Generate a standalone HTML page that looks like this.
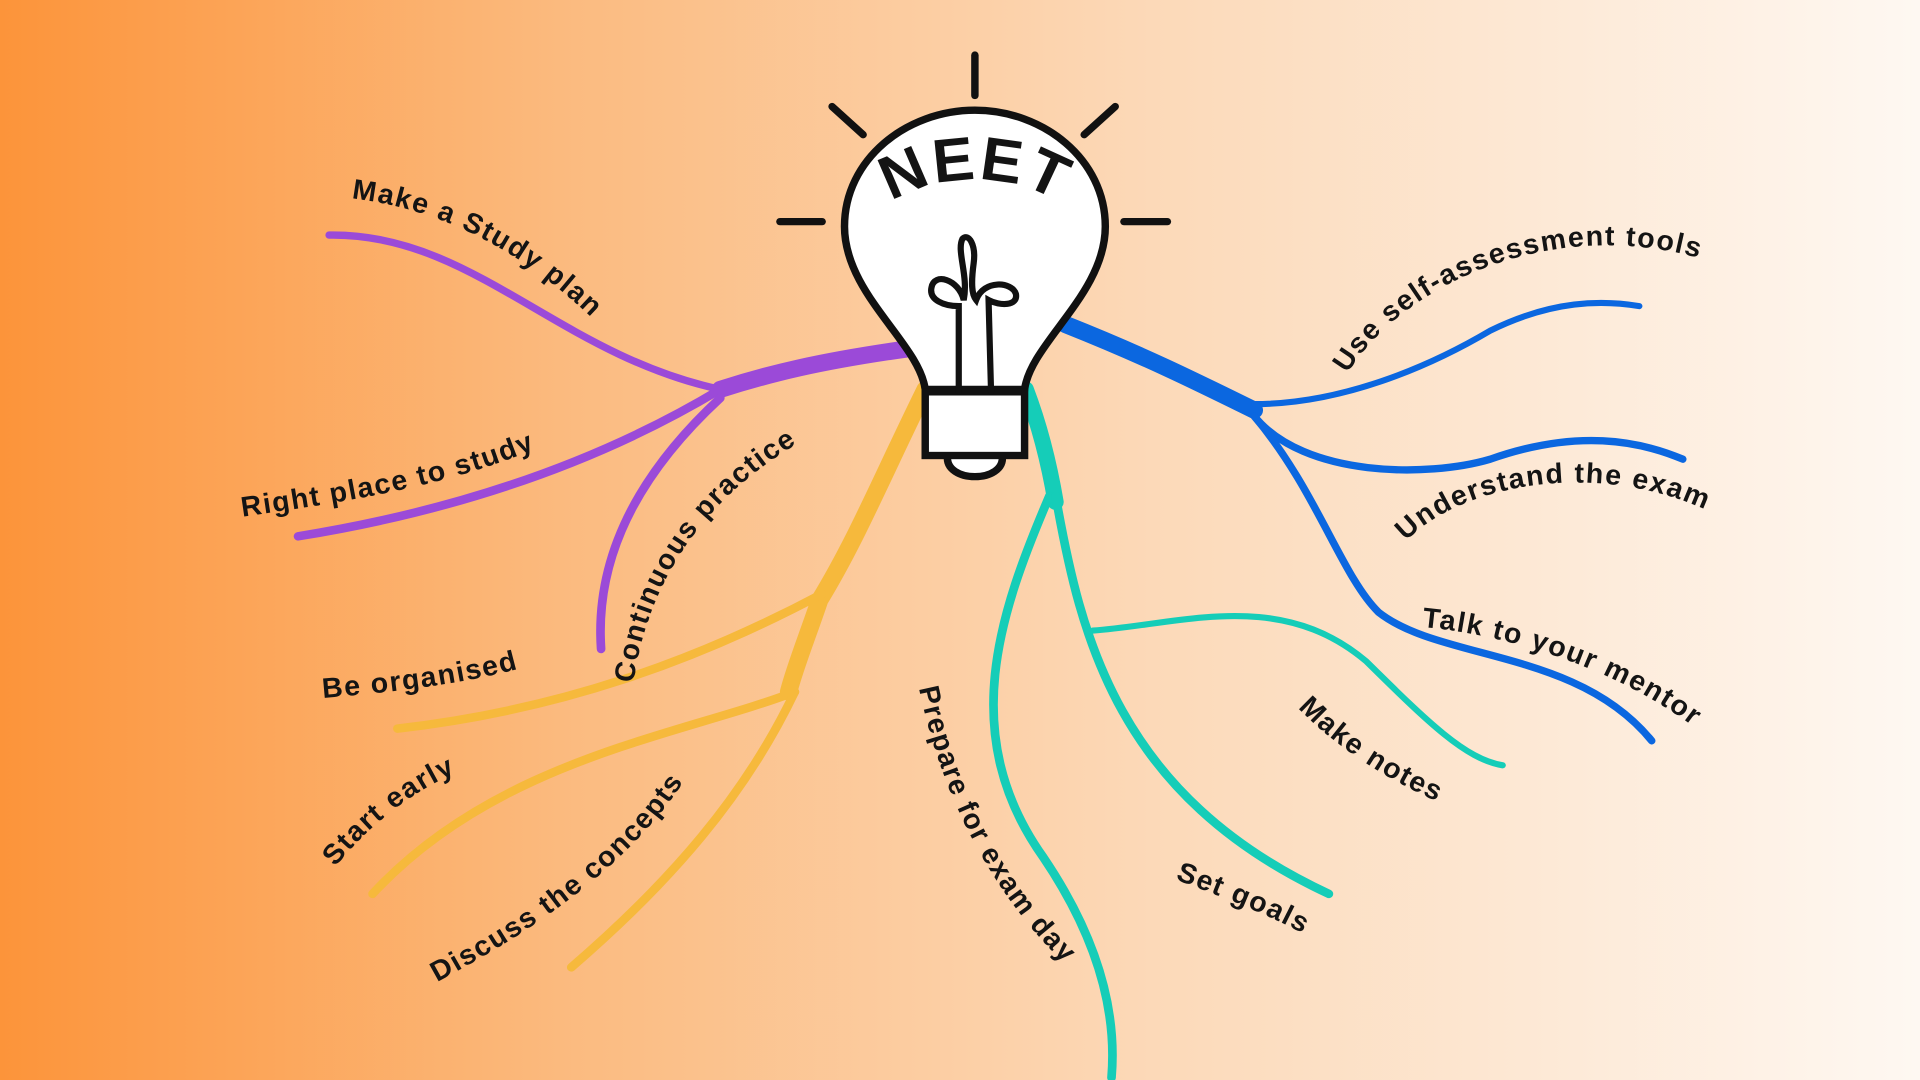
<!DOCTYPE html>
<html><head><meta charset="utf-8"><style>
html,body{margin:0;padding:0;width:1920px;height:1080px;overflow:hidden}
svg{display:block}
text{font-family:"Liberation Sans",sans-serif;font-weight:bold;font-size:23px;fill:#141414;letter-spacing:1.2px}
</style></head><body>
<svg width="1920" height="1080" viewBox="0 0 1546 882" preserveAspectRatio="none" xmlns="http://www.w3.org/2000/svg">
<defs>
<linearGradient id="bg" x1="0" y1="0" x2="1" y2="0">
<stop offset="0" stop-color="#fc943a"/>
<stop offset="0.3" stop-color="#fbbb80"/>
<stop offset="0.6" stop-color="#fcd9b8"/>
<stop offset="1" stop-color="#fef8f2"/>
</linearGradient>
<path id="p1" d="M283 162 C350 170 420 200 492 275"/>
<path id="p2" d="M195 422 C300 407 380 392 452 357"/>
<path id="p3" d="M510 558 C522 470 572 400 655 355"/>
<path id="p4" d="M260 570 C320 565 380 558 432 542"/>
<path id="p5" d="M270 708 C300 670 340 640 382 625"/>
<path id="p6" d="M352 802 C430 760 520 700 564 615"/>
<path id="p7" d="M740 562 C758 650 800 740 880 808"/>
<path id="p8" d="M946 718 C990 735 1030 750 1062 770"/>
<path id="p9" d="M1045 578 C1080 615 1130 645 1180 664"/>
<path id="p10" d="M1145 512 C1230 520 1320 555 1378 605"/>
<path id="p11" d="M1132 442 C1180 392 1300 372 1394 427"/>
<path id="p12" d="M1085 305 C1130 230 1260 170 1387 217"/>
<path id="pn" d="M703 182 C730 135 840 135 867 182"/>
</defs>
<rect width="1546" height="882" fill="url(#bg)"/>
<g fill="none" stroke-linecap="round">
<g stroke="#9b4ad8">
<path d="M730 285 C660 295 620 305 580 318" stroke-width="14"/>
<path d="M580 318 C450 290 380 190 265 192" stroke-width="6"/>
<path d="M580 318 C470 385 350 420 240 438" stroke-width="7"/>
<path d="M580 325 C500 400 480 470 484 530" stroke-width="7"/>
</g>
<g stroke="#f6b93c">
<path d="M745 318 C710 390 690 440 660 490 C650 520 640 545 635 565" stroke-width="14"/>
<path d="M662 485 C560 540 450 580 320 595" stroke-width="7"/>
<path d="M640 565 C550 600 400 620 300 730" stroke-width="7"/>
<path d="M640 565 C600 650 540 720 460 790" stroke-width="7"/>
</g>
<g stroke="#15cdb8">
<path d="M826 318 C838 350 845 380 850 410" stroke-width="13"/>
<path d="M845 405 C805 500 770 600 840 700 C880 760 900 820 895 880" stroke-width="7"/>
<path d="M850 405 C870 520 900 650 1070 730" stroke-width="7"/>
<path d="M880 515 C950 510 1030 480 1100 540 C1150 590 1180 620 1210 625" stroke-width="5"/>
</g>
<g stroke="#0b67e0">
<path d="M858 265 C920 290 960 310 1010 335" stroke-width="14"/>
<path d="M1010 330 C1080 330 1150 300 1200 270 C1250 245 1290 245 1320 250" stroke-width="5"/>
<path d="M1010 340 C1050 390 1150 390 1200 375 C1270 350 1320 360 1355 375" stroke-width="6"/>
<path d="M1010 340 C1060 400 1080 470 1110 500 C1160 540 1270 530 1330 605" stroke-width="6"/>
</g>
</g>
<g stroke="#111" stroke-width="6" stroke-linecap="round" fill="none">
<line x1="785" y1="45" x2="785" y2="78"/>
<line x1="670" y1="87" x2="695" y2="110"/>
<line x1="898" y1="87" x2="873" y2="110"/>
<line x1="628" y1="181" x2="662" y2="181"/>
<line x1="905" y1="181" x2="940" y2="181"/>
<path d="M763 372 C760 395 810 395 807 372" fill="#fff"/>
<path d="M745 318 C740 280 680 240 680 185 C680 130 730 90 785 90 C840 90 890 130 890 185 C890 240 830 280 825 318 Z" fill="#fff"/>
<rect x="745" y="320" width="80" height="52" fill="#fff"/>
<path d="M772 320 L772 250 C760 250 748 245 750 235 C752 222 772 228 776 245 C780 225 770 205 775 195 C780 190 786 200 784 215 C782 230 782 240 786 245 C792 228 815 230 818 240 C820 250 805 250 796 245 L798 320" stroke-width="5"/>
</g>
<text style="font-size:50px;letter-spacing:2px"><textPath href="#pn" startOffset="50%" text-anchor="middle">NEET</textPath></text>
<text><textPath href="#p1">Make a Study plan</textPath></text>
<text><textPath href="#p2">Right place to study</textPath></text>
<text><textPath href="#p3">Continuous practice</textPath></text>
<text><textPath href="#p4">Be organised</textPath></text>
<text><textPath href="#p5">Start early</textPath></text>
<text><textPath href="#p6">Discuss the concepts</textPath></text>
<text><textPath href="#p7">Prepare for exam day</textPath></text>
<text><textPath href="#p8">Set goals</textPath></text>
<text><textPath href="#p9">Make notes</textPath></text>
<text><textPath href="#p10">Talk to your mentor</textPath></text>
<text><textPath href="#p11">Understand the exam</textPath></text>
<text><textPath href="#p12">Use self-assessment tools</textPath></text>
</svg>
</body></html>
